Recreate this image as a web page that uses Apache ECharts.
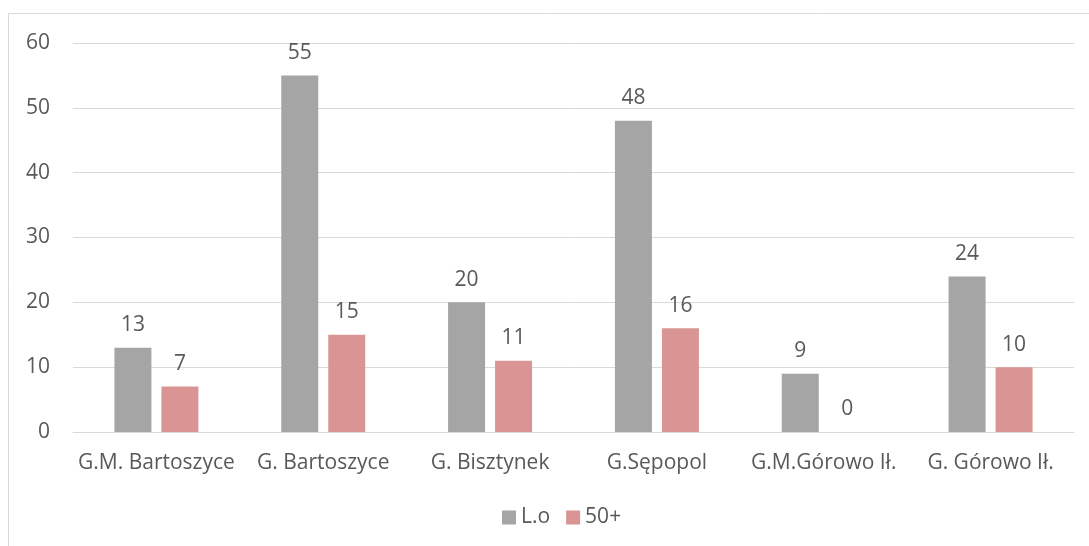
<!DOCTYPE html>
<html><head><meta charset="utf-8">
<script src="https://cdn.jsdelivr.net/npm/echarts@6/dist/echarts.min.js"></script>
<style>html,body{margin:0;padding:0;background:#fff}#c{width:1089px;height:546px}</style>
</head><body><div id="c"></div>
<script>
const categories = ['G.M. Bartoszyce', 'G. Bartoszyce', 'G. Bisztynek', 'G.Sępopol', 'G.M.Górowo Ił.', 'G. Górowo Ił.'];
const seriesNames = ['L.o', '50+'];
const valuesLo = [13, 55, 20, 48, 9, 24];
const values50 = [7, 15, 11, 16, 0, 10];
const yTicks = { min: 0, max: 60, interval: 10 };

const font = 'Open Sans';
const txt = '#595959';
const fs = 21;
const chart = echarts.init(document.getElementById('c'));
const lbl = { show: true, position: 'top', distance: 12, color: txt, fontSize: fs, fontFamily: font };
chart.setOption({
  animation: false,
  graphic: [{ type: 'rect', shape: { x: 8.5, y: 13.5, width: 1100, height: 560 }, style: { fill: 'none', stroke: '#d9d9d9', lineWidth: 1 } }],
  grid: { left: 73, right: 15, top: 43, bottom: 114, containLabel: false },
  legend: {
    bottom: 13, left: 497, itemWidth: 14, itemHeight: 14, itemGap: 16,
    icon: 'rect',
    textStyle: { color: txt, fontSize: fs, fontFamily: font, padding: [0, 0, 0, 0] },
    data: seriesNames
  },
  xAxis: {
    type: 'category', data: categories,
    axisLine: { lineStyle: { color: '#d9d9d9', width: 1 } },
    axisTick: { show: false },
    axisLabel: { color: txt, fontSize: fs, fontFamily: font, margin: 21, interval: 0 }
  },
  yAxis: {
    type: 'value', min: yTicks.min, max: yTicks.max, interval: yTicks.interval,
    axisLine: { show: false }, axisTick: { show: false },
    splitLine: { lineStyle: { color: '#d9d9d9', width: 1 } },
    axisLabel: { color: txt, fontSize: fs, fontFamily: font, margin: 23 }
  },
  series: [
    { name: seriesNames[0], type: 'bar', data: valuesLo, itemStyle: { color: '#a5a5a5' }, barWidth: 37, barGap: '27%', label: lbl },
    { name: seriesNames[1], type: 'bar', data: values50, itemStyle: { color: '#d99594' }, barWidth: 37, label: lbl }
  ]
});
</script></body></html>
